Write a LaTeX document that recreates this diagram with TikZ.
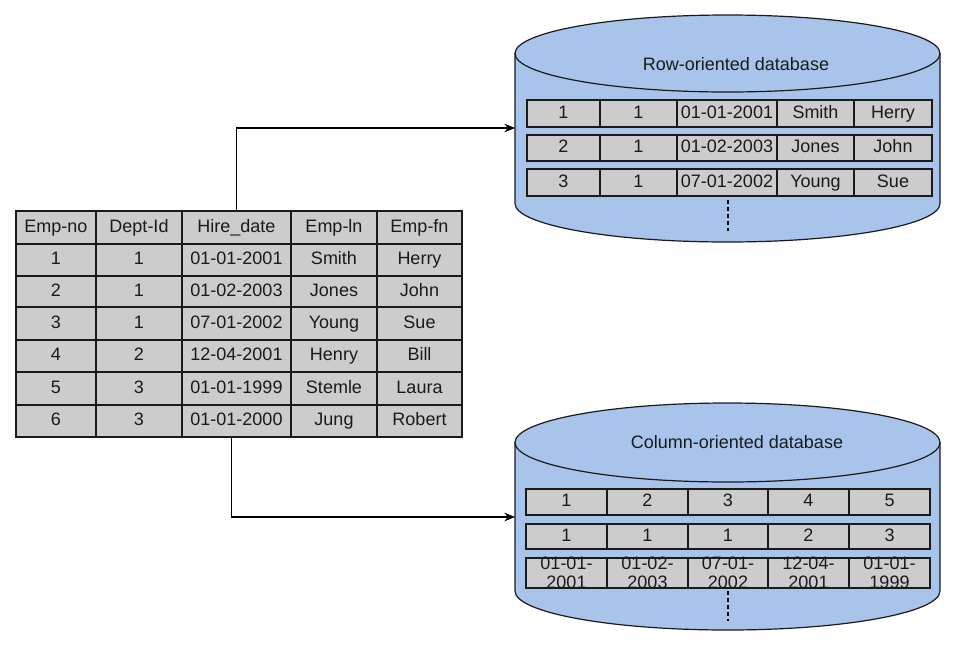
\documentclass[tikz,border=0pt]{standalone}
\usepackage{fontspec}
\setmainfont{Liberation Sans}
\usetikzlibrary{arrows.meta}
\definecolor{dbblue}{HTML}{A9C4EB}
\definecolor{cellgray}{HTML}{CCCCCC}
\definecolor{ink}{HTML}{1A1A1A}
\newcommand\cellat[6]{\node[cell, minimum width={(#4-#2)*0.75pt}, minimum height={(#5-#3)*0.75pt}] (#1) at ({(#2+#4)/2},{(#3+#5)/2}) {#6};}
\begin{document}
\begin{tikzpicture}[x=0.75pt,y=-0.75pt,
  cell/.style={draw=ink, fill=cellgray, line width=1.1pt, inner sep=0pt, text=ink, text height=9.6pt, text depth=2.6pt, font=\fontsize{13.5}{14.25}\selectfont},
  lbl/.style={inner sep=0pt, text=ink, align=center, font=\fontsize{13.5}{14.25}\selectfont},
  dbbody/.style={draw=ink, fill=dbblue, line width=0.9pt},
  conn/.style={draw=black, line width=0.8pt, -{Stealth[length=8pt,width=6.5pt]}},
  dots/.style={draw=black, line width=0.9pt, dash pattern=on 3pt off 2.2pt}]
\useasboundingbox (0,0) rectangle (958,644);

% ---------- source table ----------
\foreach \r/\ya/\yb/\a/\b/\c/\d/\e in {
  0/211/244/Emp-no/Dept-Id/Hire\_date/Emp-ln/Emp-fn,
  1/244/276/1/1/01-01-2001/Smith/Herry,
  2/276/307/2/1/01-02-2003/Jones/John,
  3/307/340/3/1/07-01-2002/Young/Sue,
  4/340/372/4/2/12-04-2001/Henry/Bill,
  5/372/405/5/3/01-01-1999/Stemle/Laura,
  6/405/437/6/3/01-01-2000/Jung/Robert}{
  \cellat{t\r-1}{16}{\ya}{96}{\yb}{\a}
  \cellat{t\r-2}{96}{\ya}{182}{\yb}{\b}
  \cellat{t\r-3}{182}{\ya}{291}{\yb}{\c}
  \cellat{t\r-4}{291}{\ya}{377}{\yb}{\d}
  \cellat{t\r-5}{377}{\ya}{462}{\yb}{\e}
}

% ---------- row-oriented database ----------
\path[dbbody] (515,53.5) -- (515,203.5) arc[start angle=180,end angle=0,x radius=212.5,y radius=38.5] -- (940,53.5) -- cycle;
\path[dbbody] (727.5,53.5) ellipse[x radius=212.5,y radius=38.5];
\node[lbl] (db1) at (736,64) {Row-oriented database};
\coordinate (db1w) at (515,128);
\foreach \r/\ya/\yb/\a/\b/\c/\d/\e in {
  1/100/127/1/1/01-01-2001/Smith/Herry,
  2/135/161/2/1/01-02-2003/Jones/John,
  3/169/196/3/1/07-01-2002/Young/Sue}{
  \cellat{r\r-1}{527}{\ya}{600}{\yb}{\a}
  \cellat{r\r-2}{600}{\ya}{677}{\yb}{\b}
  \cellat{r\r-3}{677}{\ya}{777}{\yb}{\c}
  \cellat{r\r-4}{777}{\ya}{854}{\yb}{\d}
  \cellat{r\r-5}{854}{\ya}{932}{\yb}{\e}
}
\coordinate (rd1) at (728,200);
\coordinate (rd2) at (728,231);
\draw[dots] (rd1) -- (rd2);

% ---------- column-oriented database ----------
\path[dbbody] (515,442.5) -- (515,591) arc[start angle=180,end angle=0,x radius=212.5,y radius=39] -- (940,442.5) -- cycle;
\path[dbbody] (727.5,442.5) ellipse[x radius=212.5,y radius=39.5];
\node[lbl] (db2) at (737,442) {Column-oriented database};
\coordinate (db2w) at (515,517);
\foreach \r/\ya/\yb/\a/\b/\c/\d/\e in {
  1/489/515/1/2/3/4/5,
  2/524/549/1/1/1/2/3,
  3/558/588/{}/{}/{}/{}/{}}{
  \cellat{c\r-1}{526}{\ya}{607}{\yb}{\a}
  \cellat{c\r-2}{607}{\ya}{688}{\yb}{\b}
  \cellat{c\r-3}{688}{\ya}{768}{\yb}{\c}
  \cellat{c\r-4}{768}{\ya}{849}{\yb}{\d}
  \cellat{c\r-5}{849}{\ya}{930}{\yb}{\e}
}
\node[lbl] (cx1) at (c3-1) {01-01-\\2001};
\node[lbl] (cx2) at (c3-2) {01-02-\\2003};
\node[lbl] (cx3) at (c3-3) {07-01-\\2002};
\node[lbl] (cx4) at (c3-4) {12-04-\\2001};
\node[lbl] (cx5) at (c3-5) {01-01-\\1999};
\coordinate (cd1) at (728,591);
\coordinate (cd2) at (728,621);
\draw[dots] (cd1) -- (cd2);

% ---------- connectors ----------
\draw[conn] (t0-3.north) |- (db1w);
\draw[conn] ([xshift=-3.75pt]t6-3.south) |- (db2w);
\end{tikzpicture}
\end{document}
